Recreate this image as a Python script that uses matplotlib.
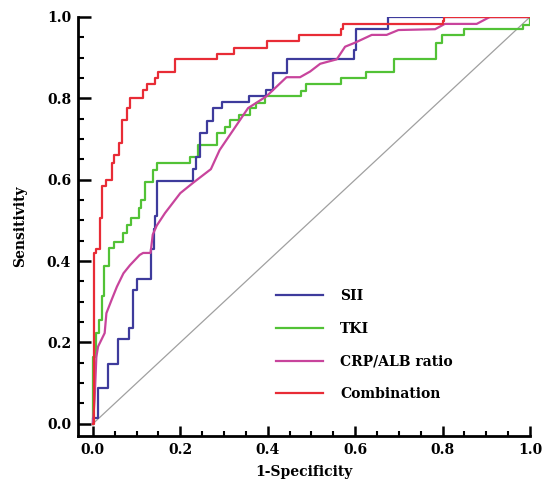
import matplotlib
matplotlib.use("Agg")
import matplotlib.pyplot as plt
from matplotlib.ticker import MultipleLocator

# ROC curves (1-specificity, sensitivity)
sii_fpr = [0, 0.0, 0.011, 0.035, 0.057, 0.083, 0.092, 0.101, 0.134, 0.139,
           0.143, 0.147, 0.230, 0.237, 0.244, 0.262, 0.275, 0.295, 0.358, 0.397,
           0.413, 0.444, 0.597, 0.601, 0.676, 1.0]
sii_tpr = [0, 0.015, 0.089, 0.147, 0.209, 0.236, 0.329, 0.356, 0.430, 0.480,
           0.510, 0.597, 0.626, 0.657, 0.716, 0.745, 0.776, 0.790, 0.805, 0.820,
           0.863, 0.896, 0.920, 0.970, 1.0, 1.0]

tki_fpr = [0, 0.0, 0.008, 0.014, 0.020, 0.026, 0.037, 0.048, 0.069, 0.077,
           0.088, 0.106, 0.110, 0.119, 0.138, 0.147, 0.222, 0.241, 0.284, 0.302,
           0.313, 0.335, 0.359, 0.373, 0.394, 0.476, 0.487, 0.567, 0.624, 0.690,
           0.786, 0.798, 0.848, 0.985, 1.0]
tki_tpr = [0, 0.165, 0.223, 0.255, 0.313, 0.388, 0.433, 0.448, 0.469, 0.489,
           0.506, 0.530, 0.550, 0.595, 0.624, 0.642, 0.657, 0.686, 0.716, 0.730,
           0.747, 0.760, 0.776, 0.789, 0.806, 0.817, 0.836, 0.850, 0.866, 0.896,
           0.937, 0.956, 0.970, 0.980, 1.0]

crp_fpr = [0, 0.004, 0.008, 0.012, 0.027, 0.031, 0.043, 0.055, 0.070, 0.085,
           0.107, 0.115, 0.132, 0.137, 0.146, 0.165, 0.200, 0.230, 0.270, 0.290,
           0.321, 0.355, 0.397, 0.443, 0.474, 0.497, 0.520, 0.558, 0.577, 0.600,
           0.638, 0.672, 0.699, 0.783, 0.805, 0.878, 0.908, 1.0]
crp_tpr = [0, 0.060, 0.165, 0.190, 0.223, 0.272, 0.305, 0.337, 0.370, 0.390,
           0.415, 0.420, 0.420, 0.465, 0.487, 0.518, 0.567, 0.593, 0.626, 0.673,
           0.722, 0.776, 0.805, 0.852, 0.852, 0.866, 0.885, 0.896, 0.927, 0.937,
           0.956, 0.956, 0.968, 0.970, 0.983, 0.983, 1.0, 1.0]

comb_fpr = [0, 0.002, 0.008, 0.016, 0.020, 0.031, 0.043, 0.048, 0.060, 0.066,
            0.079, 0.085, 0.115, 0.124, 0.142, 0.149, 0.189, 0.283, 0.323, 0.398,
            0.471, 0.567, 0.572, 0.800, 0.803, 1.0]
comb_tpr = [0, 0.420, 0.430, 0.506, 0.585, 0.600, 0.640, 0.660, 0.690, 0.747,
            0.776, 0.800, 0.820, 0.835, 0.850, 0.865, 0.897, 0.910, 0.925, 0.940,
            0.955, 0.970, 0.983, 0.990, 1.0, 1.0]

plt.rcParams['font.family'] = 'DejaVu Serif'
plt.rcParams['font.weight'] = 'bold'

fig = plt.figure(figsize=(5.47, 4.87), dpi=100)
ax = fig.add_axes([78 / 547, 1 - 436 / 487, 452 / 547, 419 / 487])

ax.plot([0, 1], [0, 1], color='#a0a0a0', lw=0.9)
ax.plot(tki_fpr, tki_tpr, drawstyle='steps-post', color='#52c236', lw=1.6, label='TKI')
ax.plot(sii_fpr, sii_tpr, drawstyle='steps-post', color='#3e3b9c', lw=1.6, label='SII')
ax.plot(crp_fpr, crp_tpr, color='#c8449c', lw=1.6, label='CRP/ALB ratio')
ax.plot(comb_fpr, comb_tpr, drawstyle='steps-post', color='#e82c36', lw=1.6, label='Combination')

ax.set_xlim(-0.034, 1.0)
ax.set_ylim(-0.03, 1.0)
ax.xaxis.set_major_locator(MultipleLocator(0.2))
ax.xaxis.set_minor_locator(MultipleLocator(0.05))
ax.yaxis.set_major_locator(MultipleLocator(0.2))
ax.yaxis.set_minor_locator(MultipleLocator(0.05))
ax.xaxis.set_major_formatter(lambda v, p: '%.1f' % v)
ax.yaxis.set_major_formatter(lambda v, p: '%.1f' % v)

for s in ['top', 'right']:
    ax.spines[s].set_visible(False)
for s in ['left', 'bottom']:
    ax.spines[s].set_linewidth(2.0)

ax.tick_params(axis='x', which='major', direction='in', length=7, width=1.8, labelsize=10, pad=5)
ax.tick_params(axis='x', which='minor', direction='in', length=3.6, width=1.5)
ax.tick_params(axis='y', which='major', direction='in', length=9, width=1.8, labelsize=10, pad=5)
ax.tick_params(axis='y', which='minor', direction='in', length=4.5, width=1.5)

ax.set_xlabel('1-Specificity', fontsize=10, fontweight='bold', labelpad=6)
ax.set_ylabel('Sensitivity', fontsize=10, fontweight='bold', labelpad=14)

handles, labels = ax.get_legend_handles_labels()
order = [1, 0, 2, 3]
ax.legend([handles[i] for i in order], [labels[i] for i in order],
          loc='upper left', bbox_to_anchor=(276 / 547, 1 - 289 / 487),
          bbox_transform=fig.transFigure, frameon=False, fontsize=10,
          handlelength=3.4, handletextpad=1.2, labelspacing=1.35,
          borderpad=0, borderaxespad=0)

fig.savefig('out.png', dpi=100)
